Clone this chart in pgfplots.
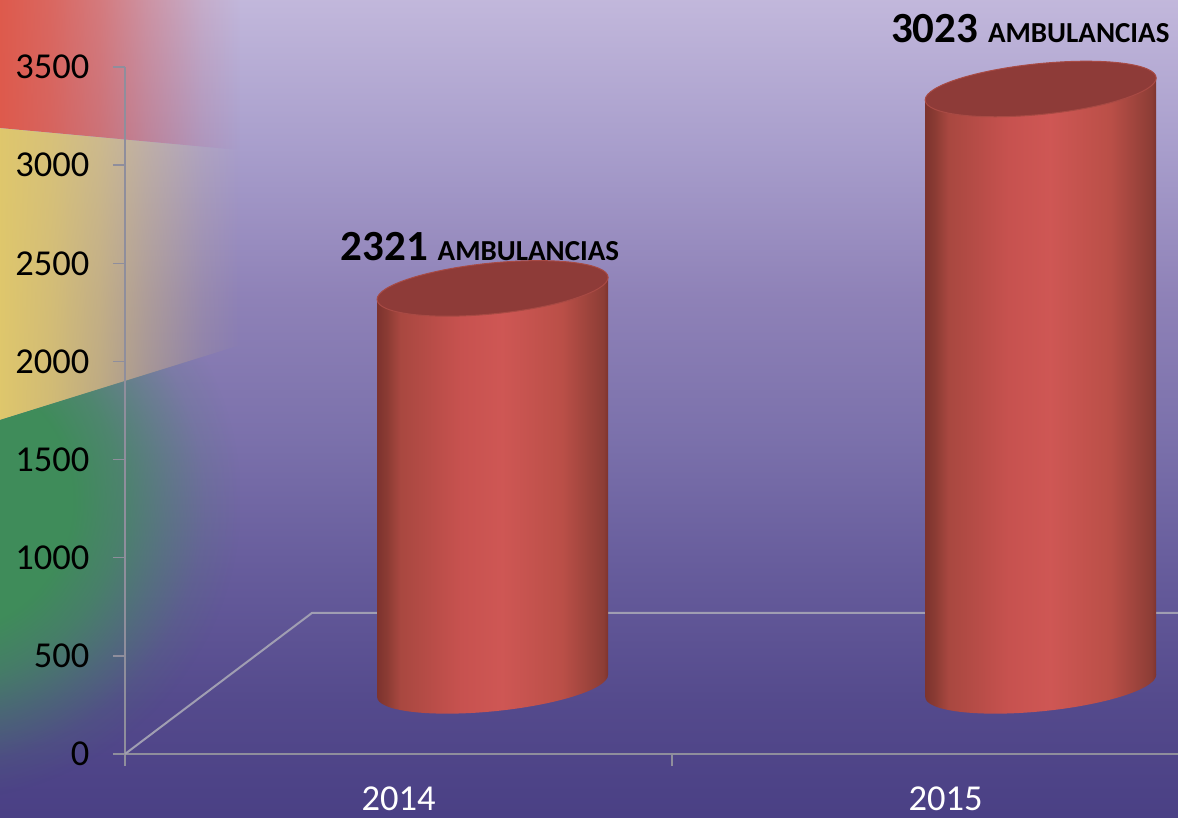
\documentclass[border=0pt]{standalone}
\usepackage{fontspec}
\setmainfont{Carlito}
\usepackage{pgfplots}
\pgfplotsset{compat=1.18}
\usetikzlibrary{fadings}

\definecolor{capred}{HTML}{8E3B38}
\definecolor{rimred}{HTML}{A84A44}
\definecolor{axisgray}{HTML}{8F8E9C}
\definecolor{floorgray}{HTML}{A09EB2}
\definecolor{flagred}{HTML}{DE5A4C}
\definecolor{flagyellow}{HTML}{DFC76C}
\definecolor{flaggreen}{HTML}{3F8C5A}

% background, bbox maps to 25bp..75bp
\pgfdeclareverticalshading{slide}{100bp}{
  rgb(0bp)=(.29,.25,.52); rgb(25bp)=(.29,.25,.52); rgb(32bp)=(.33,.29,.55); rgb(40bp)=(.40,.36,.61);
  rgb(48bp)=(.48,.44,.67); rgb(57bp)=(.56,.51,.72); rgb(66bp)=(.66,.62,.80);
  rgb(75bp)=(.76,.72,.86); rgb(100bp)=(.76,.72,.86)}
\pgfdeclarehorizontalshading{cylbody}{100bp}{
  rgb(0bp)=(.49,.20,.18); rgb(25bp)=(.49,.20,.18); rgb(27bp)=(.54,.23,.20); rgb(30bp)=(.66,.28,.25);
  rgb(43bp)=(.78,.32,.31); rgb(52bp)=(.81,.34,.33); rgb(65bp)=(.73,.31,.28);
  rgb(74bp)=(.55,.24,.21); rgb(75bp)=(.49,.20,.18); rgb(100bp)=(.49,.20,.18)}

% fadings for the blurred flag at the left
\pgfdeclarehorizontalshading{hfadeshade}{100bp}{
  gray(0bp)=(1); gray(25bp)=(1); gray(36bp)=(.85); gray(46bp)=(.65); gray(56bp)=(.38); gray(67bp)=(.12);
  gray(75bp)=(0); gray(100bp)=(0)}
\pgfdeclarefading{hfade}{\pgfuseshading{hfadeshade}}
\pgfdeclareradialshading{blobshade}{\pgfpointorigin}{
  gray(0bp)=(1); gray(11bp)=(1); gray(15bp)=(.75); gray(19bp)=(.38); gray(22bp)=(.12);
  gray(25bp)=(0); gray(50bp)=(0)}
\pgfdeclarefading{blob}{\pgfuseshading{blobshade}}

% cylinder ends
\pgfdeclareplotmark{cylcap}{%
  \pgfpathellipse{\pgfpointorigin}{\pgfpoint{115.5pt}{11pt}}{\pgfpoint{0pt}{25.5pt}}%
  \pgfusepathqfillstroke}
\pgfdeclareplotmark{cylbase}{%
  \pgfpathellipse{\pgfpointorigin}{\pgfpoint{115.5pt}{11pt}}{\pgfpoint{0pt}{25.5pt}}%
  \pgfshadepath{cylbody}{0}\pgfusepath{discard}}

\begin{document}
\begin{tikzpicture}
\path[use as bounding box] (0,0) rectangle (1178pt,817pt);
\shade[shading=slide] (0,0) rectangle (1178pt,817pt);
\begin{scope}[x=1pt,y=-1pt,yshift=817pt]
  \fill[flagred,path fading=hfade]
    (0,0) -- (240,0) -- (240,150) -- (0,128) -- cycle;
  \fill[flagyellow,path fading=hfade]
    (0,128) -- (240,150) -- (240,345) -- (0,420) -- cycle;
  \begin{scope}
    \clip (0,420) -- (240,345) -- (240,817) -- (0,817) -- cycle;
    \fill[flaggreen,path fading=blob] (-360,200) rectangle (240,800);
  \end{scope}
\end{scope}
\begin{axis}[
    at={(125pt,63pt)}, anchor=origin,
    scale only axis,
    width=1053pt, height=687pt,
    xmin=0, xmax=1.925,
    ymin=0, ymax=3500,
    clip=false,
    axis x line=bottom,
    axis y line=left,
    axis line style={-,axisgray,line width=2.2pt},
    tick style={axisgray,line width=1.5pt},
    tick align=outside,
    major tick length=12pt,
    xtick={0,1},
    xticklabels={,},
    extra x ticks={0.5,1.5},
    extra x tick labels={2014,2015},
    extra x tick style={
        major tick length=0pt,
        tick label style={white,font=\fontsize{36.5}{40}\selectfont,anchor=center,inner sep=0pt,yshift=-45pt}},
    ytick={0,500,...,3500},
    yticklabel style={black,font=\fontsize{36.5}{40}\selectfont,xshift=-20pt},
    /pgf/number format/assume math mode=true,
    /pgf/number format/1000 sep={},
]
% floor of the 3D box
\addplot[floorgray,line width=2pt] coordinates {(0,0) (0.342,719) (1.925,719)};
% cylinder bottoms
\addplot[only marks,mark=cylbase] coordinates {(0.672,347) (1.674,347)};
% cylinder walls
\addplot[draw=none,shade,shading=cylbody] coordinates {
    (0.4608,291) (0.4608,2316) (0.8832,2428) (0.8832,403)} --cycle;
\addplot[draw=none,shade,shading=cylbody] coordinates {
    (1.4628,291) (1.4628,3332) (1.8852,3444) (1.8852,403)} --cycle;
% cylinder tops
\addplot[only marks,mark=cylcap,mark options={fill=capred,draw=rimred,line width=1pt}]
    coordinates {(0.672,2372) (1.674,3388)};
% value labels
\addplot[only marks,mark=none,point meta=explicit,
    nodes near coords={\fontsize{43}{46}\selectfont\bfseries
        \pgfmathprintnumber{\pgfplotspointmeta}\ \fontsize{29}{46}\selectfont AMBULANCIAS},
    nodes near coords align={anchor=center},
    every node near coord/.append style={black,inner sep=0pt}]
    coordinates {(0.649,2587)[2321] (1.655,3694)[3023]};
\end{axis}
\end{tikzpicture}
\end{document}
